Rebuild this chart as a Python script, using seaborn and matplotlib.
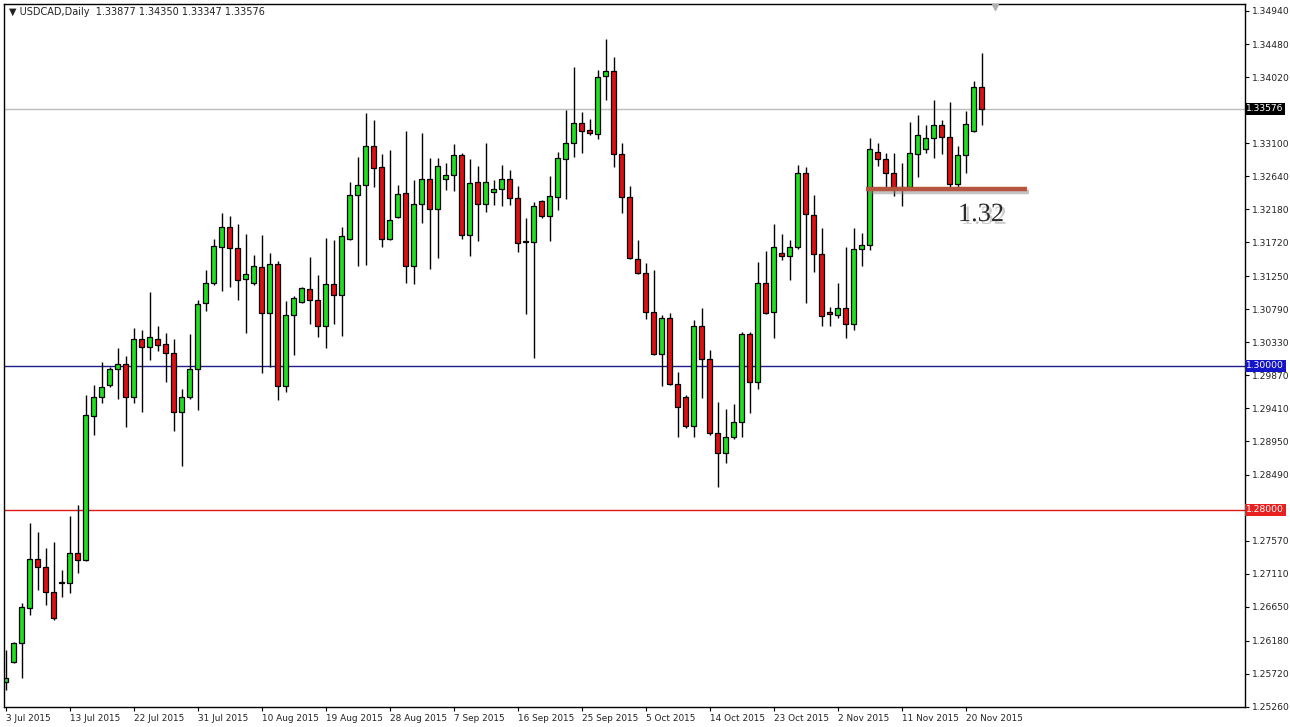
import matplotlib
matplotlib.use("Agg")
import matplotlib.pyplot as plt
import matplotlib.patheffects as pe
import seaborn as sns
import numpy as np
import pandas as pd

# daily USDCAD bars, 3 Jul 2015 .. 23 Nov 2015
opens = [1.25603, 1.25886, 1.26142, 1.26629, 1.27310, 1.27199, 1.26860, 1.26980, 1.26985, 1.27394,
         1.27301, 1.29308, 1.29564, 1.29731, 1.29954, 1.30028, 1.29573, 1.30372, 1.30269, 1.30380,
         1.30302, 1.30177, 1.29356, 1.29564, 1.29954, 1.30872, 1.31151, 1.31660, 1.31938, 1.31642,
         1.31206, 1.31151, 1.31382, 1.30733, 1.31419, 1.29722, 1.30710, 1.30895, 1.31067, 1.30918,
         1.30557, 1.31141, 1.30988, 1.31763, 1.32379, 1.32518, 1.33061, 1.32765, 1.31763, 1.32077,
         1.32403, 1.31391, 1.32254, 1.32598, 1.32180, 1.32598, 1.32653, 1.32932, 1.31827, 1.32560,
         1.32254, 1.32425, 1.32459, 1.32598, 1.32333, 1.31725, 1.31730, 1.32292, 1.32087, 1.32347,
         1.32876, 1.33099, 1.33385, 1.33284, 1.33224, 1.34039, 1.34100, 1.32946, 1.32347, 1.31485,
         1.31290, 1.30756, 1.30167, 1.30664, 1.29745, 1.29564, 1.29169, 1.30557, 1.30093, 1.29072,
         1.28794, 1.29016, 1.29225, 1.30445, 1.29782, 1.31159, 1.30756, 1.31568, 1.31531, 1.31660,
         1.32690, 1.32101, 1.31558, 1.30756, 1.30710, 1.30803, 1.30584, 1.31624, 1.31679, 1.32982,
         1.32876, 1.32681, 1.32490, 1.32486, 1.32950, 1.33015, 1.33168, 1.33349, 1.33182, 1.32532,
         1.32936, 1.33274, 1.33877]
highs = [1.26048, 1.26164, 1.26698, 1.27820, 1.27694, 1.27463, 1.27555, 1.27162, 1.27913, 1.28066,
         1.29596, 1.29736, 1.30060, 1.29990, 1.30246, 1.30139, 1.30525, 1.30501, 1.31030, 1.30557,
         1.30463, 1.30372, 1.29676, 1.30445, 1.30918, 1.31336, 1.31763, 1.32133, 1.32087, 1.31976,
         1.31837, 1.31544, 1.31823, 1.31568, 1.31465, 1.30909, 1.30974, 1.31103, 1.31521, 1.31266,
         1.31785, 1.31753, 1.31938, 1.32564, 1.32912, 1.33516, 1.33423, 1.32950, 1.33005, 1.32518,
         1.33274, 1.32588, 1.33238, 1.32890, 1.32890, 1.32829, 1.33089, 1.32960, 1.32876, 1.32783,
         1.33099, 1.32588, 1.32797, 1.32727, 1.32505, 1.32055, 1.32286, 1.32310, 1.32644, 1.32982,
         1.33562, 1.34156, 1.33538, 1.33433, 1.34119, 1.34546, 1.34295, 1.33099, 1.32505, 1.31753,
         1.31429, 1.31336, 1.30710, 1.30733, 1.29921, 1.29596, 1.30640, 1.30803, 1.30223, 1.29503,
         1.29398, 1.29471, 1.30477, 1.30477, 1.31451, 1.31604, 1.31976, 1.31837, 1.31753, 1.32797,
         1.32765, 1.32379, 1.31916, 1.30825, 1.31159, 1.31660, 1.31916, 1.31855, 1.33168, 1.33099,
         1.32968, 1.32960, 1.32820, 1.33399, 1.33492, 1.33353, 1.33701, 1.33423, 1.33677, 1.33061,
         1.33552, 1.33970, 1.34350]
lows = [1.25492, 1.25863, 1.25655, 1.26535, 1.26883, 1.26675, 1.26470, 1.26790, 1.26846, 1.27124,
        1.27290, 1.29040, 1.29481, 1.29712, 1.29537, 1.29155, 1.29489, 1.29364, 1.30083, 1.30213,
        1.29782, 1.29100, 1.28609, 1.29545, 1.29388, 1.30769, 1.31127, 1.31048, 1.31095, 1.30918,
        1.30463, 1.31127, 1.29907, 1.29990, 1.29527, 1.29642, 1.30153, 1.30881, 1.30584, 1.30399,
        1.30246, 1.30584, 1.30417, 1.31753, 1.31391, 1.31405, 1.32495, 1.31660, 1.31755, 1.32055,
        1.31159, 1.31141, 1.31986, 1.31345, 1.31499, 1.32449, 1.32439, 1.31763, 1.31531, 1.31743,
        1.32147, 1.32240, 1.32226, 1.32240, 1.31590, 1.30724, 1.30107, 1.32055, 1.31743, 1.32171,
        1.32319, 1.32904, 1.32968, 1.33214, 1.33154, 1.33701, 1.32765, 1.32133, 1.31490, 1.31280,
        1.30650, 1.30150, 1.29722, 1.29730, 1.29008, 1.29133, 1.29016, 1.29551, 1.29040, 1.28321,
        1.28646, 1.28980, 1.29016, 1.29350, 1.29676, 1.30724, 1.30385, 1.31475, 1.31197, 1.31624,
        1.30872, 1.31312, 1.30557, 1.30557, 1.30664, 1.30385, 1.30501, 1.31391, 1.31614, 1.32783,
        1.32473, 1.32365, 1.32226, 1.32459, 1.32626, 1.32960, 1.32890, 1.32950, 1.32495, 1.32495,
        1.32681, 1.33260, 1.33347]
closes = [1.25659, 1.26142, 1.26643, 1.27310, 1.27199, 1.26851, 1.26489, 1.26990, 1.27394, 1.27301,
          1.29318, 1.29564, 1.29704, 1.29954, 1.30024, 1.29573, 1.30372, 1.30269, 1.30399, 1.30296,
          1.30177, 1.29356, 1.29564, 1.29954, 1.30863, 1.31159, 1.31670, 1.31938, 1.31638, 1.31197,
          1.31280, 1.31391, 1.30733, 1.31419, 1.29722, 1.30710, 1.30946, 1.31085, 1.30918, 1.30557,
          1.31141, 1.30988, 1.31809, 1.32379, 1.32518, 1.33061, 1.32751, 1.31763, 1.32031, 1.32393,
          1.31391, 1.32254, 1.32598, 1.32180, 1.32783, 1.32658, 1.32932, 1.31827, 1.32542, 1.32254,
          1.32560, 1.32459, 1.32598, 1.32333, 1.31716, 1.31735, 1.32226, 1.32087, 1.32365, 1.32890,
          1.33099, 1.33385, 1.33274, 1.33238, 1.34025, 1.34109, 1.32946, 1.32347, 1.31499, 1.31290,
          1.30756, 1.30167, 1.30664, 1.29745, 1.29425, 1.29169, 1.30557, 1.30093, 1.29072, 1.28794,
          1.29016, 1.29225, 1.30445, 1.29782, 1.31159, 1.30742, 1.31652, 1.31531, 1.31660, 1.32690,
          1.32115, 1.31558, 1.30696, 1.30724, 1.30803, 1.30584, 1.31624, 1.31679, 1.33015, 1.32876,
          1.32681, 1.32486, 1.32480, 1.32960, 1.33210, 1.33168, 1.33349, 1.33182, 1.32532, 1.32936,
          1.33367, 1.33878, 1.33576]

date_labels = ['3 Jul 2015', '13 Jul 2015', '22 Jul 2015', '31 Jul 2015', '10 Aug 2015',
               '19 Aug 2015', '28 Aug 2015', '7 Sep 2015', '16 Sep 2015', '25 Sep 2015',
               '5 Oct 2015', '14 Oct 2015', '23 Oct 2015', '2 Nov 2015', '11 Nov 2015',
               '20 Nov 2015']
date_label_bars = [0, 8, 16, 24, 32, 40, 48, 56, 64, 72, 80, 88, 96, 104, 112, 120]

price_ticks = [1.34940, 1.34480, 1.34020, 1.33100, 1.32640, 1.32180, 1.31720, 1.31250,
               1.30790, 1.30330, 1.29870, 1.29410, 1.28950, 1.28490, 1.27570, 1.27110,
               1.26650, 1.26180, 1.25720, 1.25260]
bid_price = 1.33576
level_blue = 1.30000
level_red = 1.28000
support_level = 1.32463
support_text = '1.32'

df = pd.DataFrame({'open': opens, 'high': highs, 'low': lows, 'close': closes})
df['bar'] = np.arange(len(df))
df['up'] = df['close'] >= df['open']

sns.set_theme(style='white')
plt.rcParams['font.family'] = ['DejaVu Sans']

fig = plt.figure(figsize=(12.9, 7.27), dpi=100)
ax = fig.add_axes([3.5 / 1290, 1 - 707 / 727, (1245 - 3.5) / 1290, 703 / 727])
ax.set_facecolor('white')

# horizontal levels
ax.axhline(bid_price, color='#bcbcbc', lw=1, zorder=1)
ax.axhline(level_blue, color='#1c1c8c', lw=1, zorder=1)
ax.axhline(level_red, color='#e01818', lw=1, zorder=1)

# wicks
ax.vlines(df['bar'], df['low'], df['high'], color='black', lw=1, zorder=2)

# bodies
body_h = (df['close'] - df['open']).abs().clip(lower=0.00004)
body_b = df[['open', 'close']].min(axis=1)
colors = np.where(df['up'], '#22dd22', '#dd1111')
ax.bar(df['bar'], body_h, bottom=body_b, width=0.62, color=colors,
       edgecolor='black', linewidth=0.9, zorder=3)

# support annotation
ax.plot([107.5, 127.6], [support_level, support_level], color='#b5553f', lw=3.2,
        solid_capstyle='butt', zorder=4,
        path_effects=[pe.SimpleLineShadow(offset=(1.5, -2.5), shadow_color='#888888', alpha=0.5),
                      pe.Normal()])
ax.text(121.9, 1.32100, support_text, fontsize=19, family='Liberation Serif', color='#2a2a2a',
        ha='center', va='center', zorder=5,
        path_effects=[pe.withSimplePatchShadow(offset=(2, -2), shadow_rgbFace='#999999', alpha=0.5)])

ax.set_xlim(-0.31, 154.9)
ax.set_ylim(1.25255, 1.35037)

# price axis on the right
ax.yaxis.tick_right()
ax.set_yticks(price_ticks)
ax.set_yticklabels([f'{p:.5f}' for p in price_ticks])
ax.tick_params(axis='y', which='both', right=True, left=False, direction='out', length=3,
               width=0.8, color='black', labelsize=6.6, pad=2, labelcolor='#222222')

ytr = ax.get_yaxis_transform()
for val, bg in [(bid_price, 'black'), (level_blue, '#1414c8'), (level_red, '#e82020')]:
    ax.text(1.001, val, f'{val:.5f}', transform=ytr, ha='left', va='center', fontsize=6.6,
            color='white', clip_on=False, zorder=6,
            bbox=dict(boxstyle='square,pad=0.18', facecolor=bg, edgecolor='none'))

# date axis
ax.set_xticks(date_label_bars)
ax.set_xticklabels(date_labels)
for lbl in ax.get_xticklabels():
    lbl.set_ha('left')
ax.tick_params(axis='x', bottom=True, direction='out', length=3, width=0.8, color='black',
               labelsize=6.4, pad=2, labelcolor='#222222')

for s in ax.spines.values():
    s.set_color('black')
    s.set_linewidth(1)

# header line and chart-shift marker
ax.text(0.0045, 0.989, '\u25bc USDCAD,Daily  1.33877 1.34350 1.33347 1.33576',
        transform=ax.transAxes, fontsize=7, color='#222222', ha='left', va='center')
ax.plot([123.6], [0.996], transform=ax.get_xaxis_transform(), marker='v', ms=5,
        color='#b0b0b0', clip_on=False, zorder=6)

fig.savefig('out.png', dpi=100, facecolor='white')
